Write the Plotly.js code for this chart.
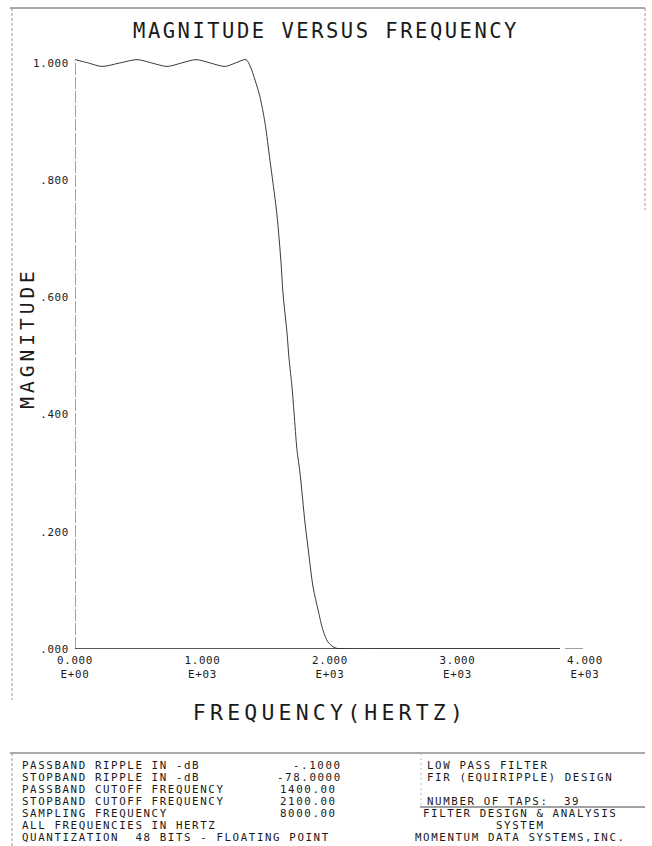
<!DOCTYPE html>
<html><head><meta charset="utf-8">
<script src="https://cdn.plot.ly/plotly-3.0.1.min.js"></script>
<style>
html,body{margin:0;padding:0;background:#fff}
#chart{width:652px;height:846px}
.gtitle{letter-spacing:2.5px}
.xtitle{letter-spacing:4.2px}
.annotation-text{letter-spacing:1.6px}
.xtick text,.ytick text{letter-spacing:0.7px}
</style>
</head><body><div id="chart"></div>
<script>
// ---- data ----
const freqHz = [0, 106, 212, 349, 486, 604, 722, 835, 949, 1062, 1176, 1258, 1341, 1373, 1412, 1451, 1490, 1529, 1553, 1584, 1616, 1631, 1663, 1678, 1702, 1718, 1741, 1765, 1804, 1827, 1867, 1906, 1945, 1984, 2039, 2118, 2400, 2800, 3200, 3600, 3800];
const magnitude = [1.0058, 1.0, 0.9942, 1.0, 1.0058, 1.0, 0.9942, 1.0, 1.0058, 1.0, 0.9942, 1.0, 1.0058, 0.995, 0.971, 0.942, 0.898, 0.834, 0.795, 0.741, 0.659, 0.608, 0.539, 0.497, 0.447, 0.403, 0.340, 0.300, 0.215, 0.174, 0.106, 0.067, 0.032, 0.012, 0.002, 0.0001, 0.0001, 0.0001, 0.0001, 0.0001, 0.0001];
const xTickVals = [0, 1000, 2000, 3000, 4000];
const xTickText = ['0.000<br>E+00', '1.000<br>E+03', '2.000<br>E+03', '3.000<br>E+03', '4.000<br>E+03'];
const yTickVals = [0, 0.2, 0.4, 0.6, 0.8, 1.0];
const yTickText = ['.000', '.200', '.400', '.600', '.800', '1.000'];
const yTitle = 'MAGNITUDE';
const specLabels = ['PASSBAND RIPPLE IN -dB', 'STOPBAND RIPPLE IN -dB', 'PASSBAND CUTOFF FREQUENCY', 'STOPBAND CUTOFF FREQUENCY', 'SAMPLING FREQUENCY', 'ALL FREQUENCIES IN HERTZ', 'QUANTIZATION  48 BITS - FLOATING POINT'];
const specDbValues = ['-.1000', '-78.0000'];
const specFreqValues = ['1400.00', '2100.00', '8000.00'];
const filterInfo = ['LOW PASS FILTER', 'FIR (EQUIRIPPLE) DESIGN'];
const tapsLabel = 'NUMBER OF TAPS:';
const tapsValue = '39';
const creditLines = ['FILTER DESIGN & ANALYSIS', 'SYSTEM', 'MOMENTUM DATA SYSTEMS,INC.'];

// ---- layout helpers (pixel -> paper) ----
const W = 652, H = 846, L = 75, R = 67, T = 56, B = 197;
const pw = W - L - R, ph = H - T - B;
const px = x => (x - L) / pw;
const py = y => (H - B - y) / ph;
const FONT = 'DejaVu Sans Mono, monospace';
const INK = '#1a1a1a';
const esc = s => s.replace(/&/g, '&amp;');

const rowY = [765, 777, 789, 801, 813, 825, 837];
const annotations = [];
function note(text, x, y, anchor) {
  annotations.push({text: esc(text), xref: 'paper', yref: 'paper', x: px(x), y: py(y),
    xanchor: anchor || 'left', yanchor: 'middle', showarrow: false,
    font: {family: FONT, size: 10.8, color: INK}});
}
specLabels.forEach((t, i) => note(t, 20, rowY[i]));
specDbValues.forEach((t, i) => note(t, 344, rowY[i], 'right'));
specFreqValues.forEach((t, i) => note(t, 278, rowY[i + 2]));
filterInfo.forEach((t, i) => note(t, 425, rowY[i]));
note(tapsLabel, 425, rowY[3]);
note(tapsValue, 562, rowY[3]);
creditLines.forEach((t, i) => note(t, 520, rowY[i + 4], 'center'));
// y-axis title, placed as in the original plot
const yTitleIndex = annotations.length;
annotations.push({text: yTitle, xref: 'paper', yref: 'paper', x: px(27), y: py(338),
  xanchor: 'center', yanchor: 'middle', textangle: -90, showarrow: false,
  font: {family: FONT, size: 19.5, color: INK}});
const st = document.createElement('style');
st.textContent = '.annotation[data-index="' + yTitleIndex + '"] .annotation-text{letter-spacing:4px}';
document.head.appendChild(st);

function pline(x0, y0, x1, y1, color, width, dash) {
  return {type: 'line', xref: 'paper', yref: 'paper', x0: px(x0), y0: py(y0), x1: px(x1), y1: py(y1),
    line: {color: color, width: width, dash: dash || 'solid'}};
}
const shapes = [
  pline(10, 8, 645, 8, '#555', 1),
  pline(12, 8, 12, 700, '#999', 1, '3px,2px'),
  pline(645, 8, 645, 210, '#999', 1, '3px,2px'),
  pline(10, 753, 645, 753, '#555', 1),
  pline(12, 753, 12, 846, '#999', 1, '3px,2px'),
  pline(421, 753, 421, 807, '#bbb', 1, '2px,3px'),
  pline(420, 807, 645, 807, '#444', 1),
  {type: 'line', xref: 'x', yref: 'y', x0: 0, y0: 0, x1: 0, y1: 1, line: {color: '#444', width: 1, dash: '12px,2px'}},
  {type: 'line', xref: 'x', yref: 'y', x0: 0, y0: 0, x1: 3804, y1: 0, line: {color: '#222', width: 1.5}},
  {type: 'line', xref: 'x', yref: 'y', x0: 3843, y0: 0, x1: 3984, y1: 0, line: {color: '#444', width: 1}}
];

const trace = {
  x: freqHz, y: magnitude, type: 'scatter', mode: 'lines',
  line: {color: '#3a3a3a', width: 1, shape: 'spline', smoothing: 0.8},
  hoverinfo: 'x+y'
};

const layout = {
  width: W, height: H, autosize: false,
  margin: {l: L, r: R, t: T, b: B, pad: 0},
  paper_bgcolor: '#fff', plot_bgcolor: '#fff',
  showlegend: false,
  title: {text: 'MAGNITUDE VERSUS FREQUENCY', xref: 'container', yref: 'container', x: 0.5, y: 1 - 31 / H,
    xanchor: 'center', yanchor: 'middle', font: {family: FONT, size: 20.5, color: INK}},
  xaxis: {range: [0, 4000], tickvals: xTickVals, ticktext: xTickText, ticks: '', showgrid: false,
    zeroline: false, showline: false, ticklabelstandoff: 3,
    tickfont: {family: FONT, size: 10.8, color: INK},
    title: {text: 'FREQUENCY(HERTZ)', standoff: 25, font: {family: FONT, size: 21.5, color: INK}}},
  yaxis: {range: [0, 1.012], tickvals: yTickVals, ticktext: yTickText, ticks: '', showgrid: false,
    zeroline: false, showline: false, ticklabelstandoff: 5,
    tickfont: {family: FONT, size: 10.8, color: INK}},
  annotations: annotations,
  shapes: shapes
};

Plotly.newPlot('chart', [trace], layout, {displayModeBar: false, staticPlot: true});
</script>
</body></html>
